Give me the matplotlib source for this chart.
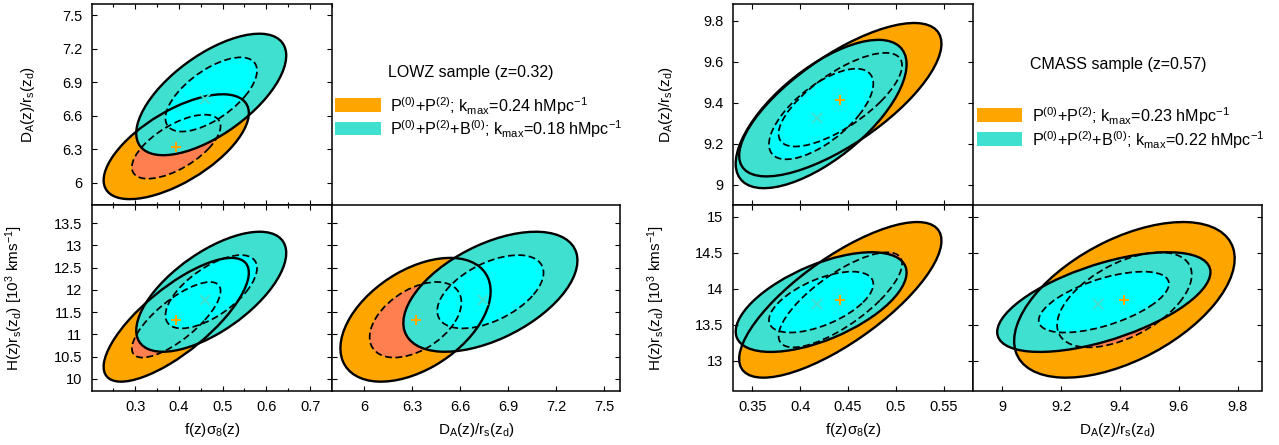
import numpy as np
import matplotlib
matplotlib.use('Agg')
import matplotlib.pyplot as plt
from matplotlib.patches import Ellipse, Rectangle
from matplotlib.ticker import MultipleLocator, FuncFormatter

plt.rcParams['font.family'] = ['Liberation Sans', 'DejaVu Sans']
plt.rcParams['mathtext.fontset'] = 'custom'
plt.rcParams['mathtext.rm'] = 'Liberation Sans'
plt.rcParams['mathtext.it'] = 'Liberation Sans:italic'
plt.rcParams['mathtext.bf'] = 'Liberation Sans:bold'
plt.rcParams['mathtext.sf'] = 'Liberation Sans'
plt.rcParams['mathtext.default'] = 'regular'

W, H = 1279, 445
DPI = 100

# ---------------- data ----------------
# parameter order: [f sigma8, D_A/r_s, H r_s]
# correlation order: [(fs8, DA), (fs8, H), (DA, H)]
lowz_p02_mean = [0.394, 6.322, 11.33]
lowz_p02_sigma = [0.0668, 0.189, 0.56]
lowz_p02_corr = [0.64, 0.76, 0.46]
lowz_p02_best = [0.394, 6.322, 11.33]

lowz_p02b0_mean = [0.474, 6.79, 11.96]
lowz_p02b0_sigma = [0.069, 0.219, 0.543]
lowz_p02b0_corr = [0.64, 0.645, 0.52]
lowz_p02b0_best = [0.459, 6.745, 11.775]

cmass_p02_mean = [0.442, 9.415, 13.846]
cmass_p02_sigma = [0.0425, 0.151, 0.434]
cmass_p02_corr = [0.73, 0.76, 0.53]
cmass_p02_best = [0.442, 9.415, 13.846]

cmass_p02b0_mean = [0.422, 9.345, 13.815]
cmass_p02b0_sigma = [0.0359, 0.146, 0.278]
cmass_p02b0_corr = [0.67, 0.59, 0.60]
cmass_p02b0_best = [0.418, 9.325, 13.787]

dchi2_levels = [6.17, 2.30]   # 2-sigma, 1-sigma (2 parameters)

lowz_title = 'LOWZ sample (z=0.32)'
lowz_labels = ['P$^{(0)}$+P$^{(2)}$; k$_{max}$=0.24 hMpc$^{-1}$',
               'P$^{(0)}$+P$^{(2)}$+B$^{(0)}$; k$_{max}$=0.18 hMpc$^{-1}$']
cmass_title = 'CMASS sample (z=0.57)'
cmass_labels = ['P$^{(0)}$+P$^{(2)}$; k$_{max}$=0.23 hMpc$^{-1}$',
                'P$^{(0)}$+P$^{(2)}$+B$^{(0)}$; k$_{max}$=0.22 hMpc$^{-1}$']

lab_f = 'f(z)σ$_8$(z)'
lab_da = 'D$_A$(z)/r$_s$(z$_d$)'
lab_h = 'H(z)r$_s$(z$_d$) [10$^3$ kms$^{-1}$]'

ORANGE, CORAL, TURQ, CYAN = '#FFA500', '#FF7F50', '#40E0D0', '#00FFFF'

# ---------------- helpers ----------------
PAIR = {(0, 1): 0, (0, 2): 1, (1, 2): 2}


def cov2(sigma, corr, i, j):
    c = corr[PAIR[(i, j)]] * sigma[i] * sigma[j]
    return np.array([[sigma[i] ** 2, c], [c, sigma[j] ** 2]])


def make_ellipse(center, cov, level, **kw):
    vals, vecs = np.linalg.eigh(cov)
    order = vals.argsort()[::-1]
    vals, vecs = vals[order], vecs[:, order]
    angle = np.degrees(np.arctan2(vecs[1, 0], vecs[0, 0]))
    w, h = 2 * np.sqrt(level * vals)
    return Ellipse(center, w, h, angle=angle, **kw)


def draw_panel(ax, i, j, sets):
    for s in sets:
        cov = cov2(s['sigma'], s['corr'], i, j)
        cen = (s['mean'][i], s['mean'][j])
        for lvl, col in zip(dchi2_levels, s['fills']):
            ax.add_patch(make_ellipse(cen, cov, lvl, facecolor=col,
                                      edgecolor='none', zorder=1))
    for s in sets:
        cov = cov2(s['sigma'], s['corr'], i, j)
        cen = (s['mean'][i], s['mean'][j])
        ax.add_patch(make_ellipse(cen, cov, dchi2_levels[0], fill=False,
                                  edgecolor='k', lw=1.7, zorder=3))
        ax.add_patch(make_ellipse(cen, cov, dchi2_levels[1], fill=False,
                                  edgecolor='k', lw=1.25,
                                  linestyle=(0, (4, 2)), zorder=3))
    for s in sets:
        ax.plot(s['best'][i], s['best'][j], linestyle='none',
                marker=s['marker'], color=s['mcolor'], ms=7, mew=1.4,
                zorder=4)


fig = plt.figure(figsize=(W / DPI, H / DPI), dpi=DPI)


def add_ax(x0, y0, x1, y1):
    return fig.add_axes([x0 / W, 1 - y1 / H, (x1 - x0) / W, (y1 - y0) / H])


fmt = FuncFormatter(lambda v, p: f'{round(v, 4):g}')


def style(ax, xlim, ylim, xmaj, ymaj, xminor=None, top=True,
          xlabels=True, ylabels=True):
    ax.set_xlim(*xlim)
    ax.set_ylim(*ylim)
    ax.xaxis.set_major_locator(MultipleLocator(xmaj))
    ax.yaxis.set_major_locator(MultipleLocator(ymaj))
    if xminor:
        ax.xaxis.set_minor_locator(MultipleLocator(xminor))
    ax.xaxis.set_major_formatter(fmt)
    ax.yaxis.set_major_formatter(fmt)
    ax.tick_params(which='both', direction='in', top=top, right=True,
                   bottom=True, left=True, width=0.8, colors='k')
    ax.tick_params(which='major', length=3.6, labelsize=10.5)
    ax.tick_params(which='minor', length=2.0)
    ax.tick_params(axis='x', which='both', top=top, pad=6.5)
    ax.tick_params(axis='y', pad=7)
    if not xlabels:
        ax.tick_params(axis='x', labelbottom=False)
    if not ylabels:
        ax.tick_params(axis='y', labelleft=False)
    for sp in ax.spines.values():
        sp.set_linewidth(1.1)


def legend(title, labels, tx, ty, sx0, sx1, rows):
    fig.text(tx / W, 1 - ty / H, title, fontsize=11.5, va='baseline')
    for lab, col, (ytop, ybase) in zip(labels, [ORANGE, TURQ], rows):
        fig.add_artist(Rectangle((sx0 / W, 1 - ybase / H), (sx1 - sx0) / W,
                                 (ybase - ytop) / H, transform=fig.transFigure,
                                 facecolor=col, edgecolor='none'))
        fig.text((sx1 + 9.5) / W, 1 - ybase / H, lab, fontsize=11.6,
                 va='baseline')


samples = [
    dict(sets=[dict(mean=lowz_p02_mean, sigma=lowz_p02_sigma,
                    corr=lowz_p02_corr, best=lowz_p02_best,
                    fills=[ORANGE, CORAL], marker='+', mcolor=ORANGE),
               dict(mean=lowz_p02b0_mean, sigma=lowz_p02b0_sigma,
                    corr=lowz_p02b0_corr, best=lowz_p02b0_best,
                    fills=[TURQ, CYAN], marker='x', mcolor=TURQ)],
         x0=92, x1=332, x2=620,
         flim=(0.2015, 0.75), dalim=(5.8, 7.6), hlim=(9.74, 13.91),
         fmaj=0.1, fmin=0.05, damaj=0.3, hmaj=0.5,
         ylx=(-0.229, -0.279)),
    dict(sets=[dict(mean=cmass_p02_mean, sigma=cmass_p02_sigma,
                    corr=cmass_p02_corr, best=cmass_p02_best,
                    fills=[ORANGE, CORAL], marker='+', mcolor=ORANGE),
               dict(mean=cmass_p02b0_mean, sigma=cmass_p02b0_sigma,
                    corr=cmass_p02b0_corr, best=cmass_p02b0_best,
                    fills=[TURQ, CYAN], marker='x', mcolor=TURQ)],
         x0=733, x1=973, x2=1262,
         flim=(0.33, 0.5805), dalim=(8.9, 9.883), hlim=(12.59, 15.16),
         fmaj=0.05, fmin=None, damaj=0.2, hmaj=0.5,
         ylx=(-0.242, -0.276)),
]

YT, YM, YB = 4, 205, 390.5

for S in samples:
    axTL = add_ax(S['x0'], YT, S['x1'], YM)
    axBL = add_ax(S['x0'], YM, S['x1'], YB)
    axBR = add_ax(S['x1'], YM, S['x2'], YB)

    draw_panel(axTL, 0, 1, S['sets'])
    draw_panel(axBL, 0, 2, S['sets'])
    draw_panel(axBR, 1, 2, S['sets'])

    style(axTL, S['flim'], S['dalim'], S['fmaj'], S['damaj'], S['fmin'],
          top=True, xlabels=False)
    style(axBL, S['flim'], S['hlim'], S['fmaj'], S['hmaj'], S['fmin'],
          top=True)
    style(axBR, S['dalim'], S['hlim'], S['damaj'], S['hmaj'], None,
          top=False, ylabels=False)

    axTL.set_ylabel(lab_da, fontsize=11)
    axTL.yaxis.set_label_coords(S['ylx'][0], 0.5)
    axBL.set_ylabel(lab_h, fontsize=11)
    axBL.yaxis.set_label_coords(S['ylx'][1], 0.5)
    axBL.set_xlabel(lab_f, fontsize=11)
    axBL.xaxis.set_label_coords(0.5, -0.163)
    axBR.set_xlabel(lab_da, fontsize=11)
    axBR.xaxis.set_label_coords(0.5, -0.163)

legend(lowz_title, lowz_labels, 388, 77.3, 335, 380.7,
       [(98.3, 111.7), (121.7, 135.0)])
legend(cmass_title, cmass_labels, 1030, 69.3, 976.7, 1022.3,
       [(108.3, 121.7), (131.7, 145.5)])

fig.savefig('out.png', dpi=DPI)
